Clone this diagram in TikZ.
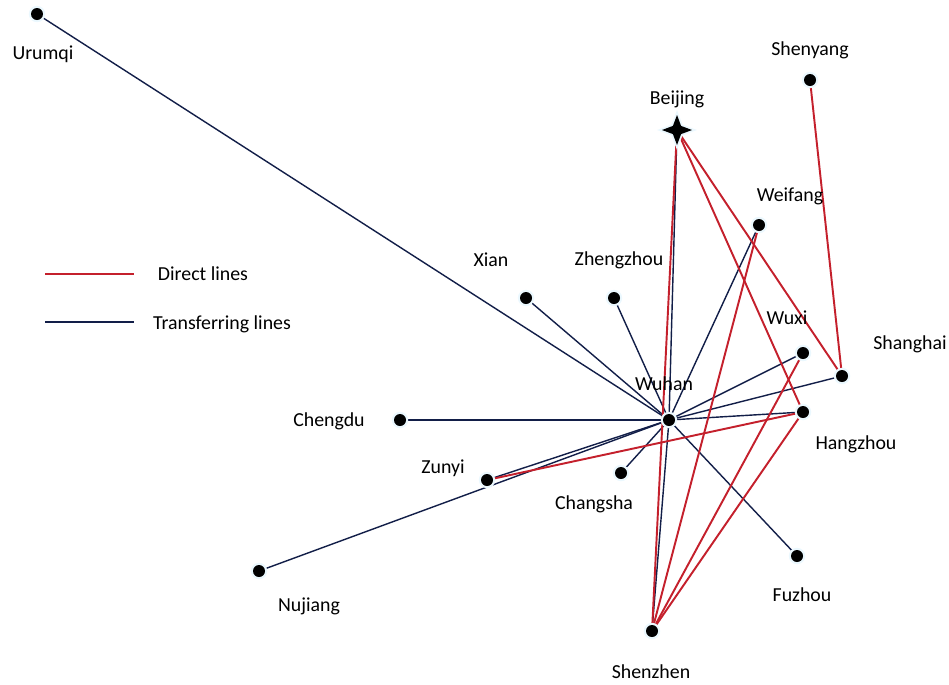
\documentclass[tikz,border=0pt]{standalone}
\usepackage{fontspec}
\setmainfont{Carlito}
\usepackage{tikz}
\usetikzlibrary{shapes.geometric,backgrounds}
\definecolor{direct}{RGB}{196,32,44}
\definecolor{transfer}{RGB}{18,30,72}
\tikzstyle{city}=[circle, fill=black, inner sep=0pt, minimum size=12*0.02cm, preaction={draw=cyan!8, line width=2.5pt}]
\tikzstyle{capital}=[star, star points=4, star point ratio=2.6, fill=black, inner sep=0pt, minimum size=30*0.02cm, preaction={draw=cyan!8, line width=2pt}]
\tikzstyle{lab}=[font=\fontsize{11.3}{13}\selectfont, inner sep=0pt]
\tikzstyle{dline}=[draw=direct, line width=1.1pt]
\tikzstyle{tline}=[draw=transfer, line width=0.8pt]

\begin{document}
\begin{tikzpicture}[x=0.02cm, y=-0.02cm]
\useasboundingbox (0,0) rectangle (949,684);

% cities
\node[city] (Urumqi) at (37,14) {};
\node[city] (Shenyang) at (810,80) {};
\node[capital] (Beijing) at (677,130) {};
\node[city] (Weifang) at (759,225) {};
\node[city] (Xian) at (526,298) {};
\node[city] (Zhengzhou) at (614,298) {};
\node[city] (Wuxi) at (803,353) {};
\node[city] (Shanghai) at (842,376) {};
\node[city] (Wuhan) at (669,420) {};
\node[city] (Chengdu) at (400,420) {};
\node[city] (Hangzhou) at (803,412) {};
\node[city] (Zunyi) at (487,480) {};
\node[city] (Changsha) at (621,473) {};
\node[city] (Nujiang) at (259,571) {};
\node[city] (Fuzhou) at (797,556) {};
\node[city] (Shenzhen) at (652,631) {};

% names
\node[lab] (lUrumqi) at (43,54) {Urumqi};
\node[lab] (lShenyang) at (810,50) {Shenyang};
\node[lab] (lBeijing) at (677,99) {Beijing};
\node[lab] (lWeifang) at (790,196) {Weifang};
\node[lab] (lXian) at (491,260) {Xian};
\node[lab] (lZhengzhou) at (619,260) {Zhengzhou};
\node[lab] (lWuxi) at (787,318) {Wuxi};
\node[lab] (lShanghai) at (910,344) {Shanghai};
\node[lab] (lWuhan) at (664,384) {Wuhan};
\node[lab] (lChengdu) at (329,421) {Chengdu};
\node[lab] (lHangzhou) at (856,444) {Hangzhou};
\node[lab] (lZunyi) at (443,468) {Zunyi};
\node[lab] (lChangsha) at (594,504) {Changsha};
\node[lab] (lNujiang) at (309,606) {Nujiang};
\node[lab] (lFuzhou) at (802,595) {Fuzhou};
\node[lab] (lShenzhen) at (651,672) {Shenzhen};

\begin{pgfonlayer}{background}
% transferring lines
\foreach \c in {Urumqi,Xian,Zhengzhou,Beijing,Weifang,Wuxi,Shanghai,Hangzhou,Chengdu,Zunyi,Nujiang,Changsha,Fuzhou,Shenzhen}
  \draw[tline] (Wuhan.center) -- (\c.center);

% direct lines
\draw[dline] (Shenyang.center) -- (Shanghai.center);
\draw[dline] (Beijing.center) -- (Shanghai.center);
\draw[dline] (Beijing.center) -- (Hangzhou.center);
\draw[dline] (Beijing.center) -- (Shenzhen.center);
\draw[dline] (Weifang.center) -- (Shenzhen.center);
\draw[dline] (Wuxi.center) -- (Shenzhen.center);
\draw[dline] (Hangzhou.center) -- (Shenzhen.center);
\draw[dline] (Zunyi.center) -- (Hangzhou.center);
\end{pgfonlayer}

% legend
\coordinate (d1) at (45,274); \coordinate (d2) at (134,274);
\coordinate (t1) at (45,322); \coordinate (t2) at (134,322);
\draw[dline] (d1) -- (d2);
\draw[tline] (t1) -- (t2);
\node[lab] (lDirect) at (203,274) {Direct lines};
\node[lab] (lTransfer) at (222,324) {Transferring lines};

\end{tikzpicture}
\end{document}
